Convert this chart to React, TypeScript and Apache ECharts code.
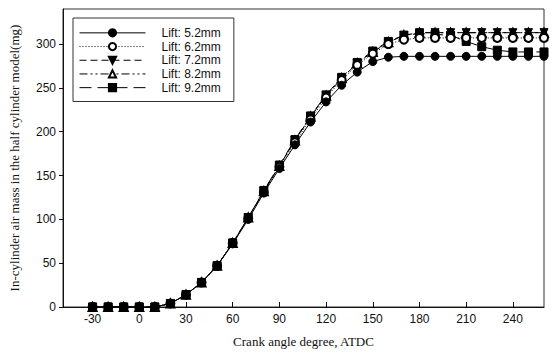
import React, { useEffect, useRef } from "react";
import * as echarts from "echarts";

const crankAngles = [-30, -20, -10, 0, 10, 20, 30, 40, 50, 60, 70, 80, 90, 100, 110, 120, 130, 140, 150, 160, 170, 180, 190, 200, 210, 220, 230, 240, 250, 260];
const lift52 = [0, 0, 0, 0, 0, 4, 14, 28, 47, 72, 100, 130, 158, 185, 211, 234, 253, 268, 280, 285, 286, 286, 286, 286, 286, 286, 286, 286, 286, 286];
const lift62 = [0, 0, 0, 0, 0, 4, 14, 28, 47, 73, 101, 131, 160, 188, 214, 239, 259, 276, 289, 300, 305, 307, 307, 307, 307, 307, 307, 307, 307, 307];
const lift72 = [0, 0, 0, 0, 0, 4, 14, 28, 47, 73, 102, 132, 161, 190, 217, 241, 261, 278, 291, 302, 310, 313, 313, 313, 313, 313, 313, 313, 313, 313];
const lift82 = [0, 0, 0, 0, 0, 4, 14, 28, 47, 73, 102, 132, 161, 190, 217, 241, 261, 278, 291, 302, 310, 313, 313, 313, 313, 313, 313, 313, 313, 313];
const lift92 = [0, 0, 0, 0, 0, 4, 14, 28, 47, 73, 102, 133, 162, 191, 218, 242, 262, 279, 292, 303, 310, 312, 311, 310, 303, 297, 293, 291, 291, 291];
const seriesNames = ["Lift: 5.2mm", "Lift: 6.2mm", "Lift: 7.2mm", "Lift: 8.2mm", "Lift: 9.2mm"];
const xTicks = [-30, 0, 30, 60, 90, 120, 150, 180, 210, 240];
const yTicks = [0, 50, 100, 150, 200, 250, 300];

export default function App() {
  const ref = useRef<HTMLDivElement>(null);
  useEffect(() => {
    if (!ref.current) return;
    const chart = echarts.init(ref.current, undefined, { renderer: "svg" });
    const pairs = (ys: number[]) => crankAngles.map((x, i) => [x, ys[i]]);
    const all = [lift52, lift62, lift72, lift82, lift92];
    const styles: any[] = [
      { symbol: "circle", rotate: 0, type: "solid" },
      { symbol: "emptyCircle", rotate: 0, type: [1, 2] },
      { symbol: "triangle", rotate: 180, type: [7, 4] },
      { symbol: "emptyTriangle", rotate: 0, type: [8, 3, 2, 3, 2, 3] },
      { symbol: "rect", rotate: 0, type: [12, 6] },
    ];
    chart.setOption({
      animation: false,
      grid: { left: 62, top: 9, right: 8, bottom: 45, show: true, borderColor: "#333", borderWidth: 1 },
      legend: {
        orient: "vertical",
        left: 73,
        top: 18,
        itemWidth: 66,
        itemHeight: 9,
        itemGap: 0,
        padding: [8, 13, 7, 6],
        borderColor: "#333",
        borderWidth: 1,
        backgroundColor: "#fff",
        lineStyle: { width: 1 },
        textStyle: { fontFamily: "Liberation Sans", fontSize: 12, lineHeight: 13.7, color: "#111", padding: [0, 0, 0, 11] },
        data: seriesNames,
      },
      xAxis: {
        type: "value",
        min: -49,
        max: 260,
        name: "Crank angle degree, ATDC",
        nameLocation: "middle",
        nameGap: 28,
        nameTextStyle: { fontFamily: "Liberation Serif", fontSize: 13, color: "#111" },
        axisLine: { onZero: false, lineStyle: { color: "#111" } },
        axisTick: { inside: true, length: 5, customValues: xTicks, lineStyle: { color: "#111" } },
        axisLabel: { customValues: xTicks, fontFamily: "Liberation Sans", fontSize: 12, color: "#111", margin: 6 },
        splitLine: { show: false },
      },
      yAxis: {
        type: "value",
        min: 0,
        max: 340,
        name: "In-cylinder air mass in the half cylinder model(mg)",
        nameLocation: "middle",
        nameGap: 42,
        nameTextStyle: { fontFamily: "Liberation Serif", fontSize: 13, color: "#111" },
        axisLine: { onZero: false, lineStyle: { color: "#111" } },
        axisTick: { inside: false, length: 4, customValues: yTicks, lineStyle: { color: "#111" } },
        axisLabel: { customValues: yTicks, fontFamily: "Liberation Sans", fontSize: 12, color: "#111", margin: 7 },
        splitLine: { show: false },
      },
      series: all.map((ys, i) => ({
        name: seriesNames[i],
        type: "line",
        data: pairs(ys),
        symbol: styles[i].symbol,
        symbolRotate: styles[i].rotate,
        symbolSize: 8,
        showAllSymbol: true,
        clip: false,
        z: 2 + (4 - i),
        lineStyle: { color: "#000", width: 1, type: styles[i].type },
        itemStyle: { color: "#000", borderColor: "#000", borderWidth: 1 },
      })),
    });
    return () => chart.dispose();
  }, []);
  return <div ref={ref} style={{ width: 552, height: 353, position: "absolute", left: 0, top: 0 }} />;
}
